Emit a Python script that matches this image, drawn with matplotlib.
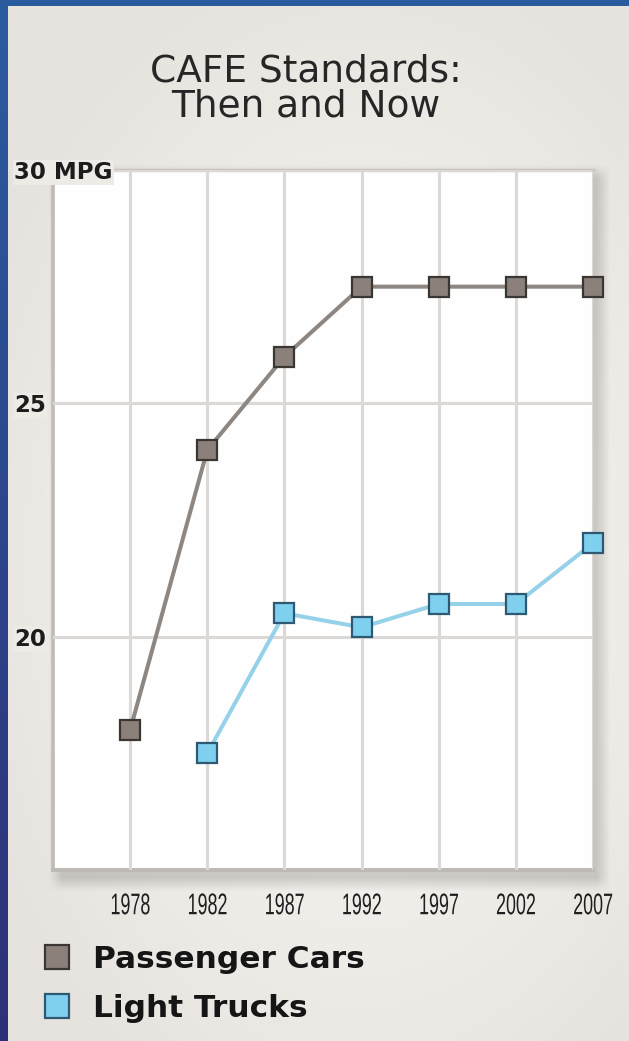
import matplotlib
matplotlib.use("Agg")
import matplotlib.pyplot as plt
import numpy as np
from matplotlib.lines import Line2D
from matplotlib.patheffects import AbstractPathEffect
from matplotlib.transforms import Affine2D

# ---------------- data ----------------
years = ["1978", "1982", "1987", "1992", "1997", "2002", "2007"]
cars = [18.0, 24.0, 26.0, 27.5, 27.5, 27.5, 27.5]
truck_years = ["1982", "1987", "1992", "1997", "2002", "2007"]
trucks = [17.5, 20.5, 20.2, 20.7, 20.7, 22.0]
y_ticks = [20, 25, 30]
y_labels = ["20", "25", "30 MPG"]
series_names = ["Passenger Cars", "Light Trucks"]
title = "CAFE Standards:\nThen and Now"

CAR_FILL, CAR_EDGE, CAR_LINE = "#8b817a", "#3a3634", "#8e8680"
TRK_FILL, TRK_EDGE, TRK_LINE = "#7fcfee", "#2d5a72", "#95d2ea"


class HStretch(AbstractPathEffect):
    """Draw text horizontally condensed around its own centre."""

    def __init__(self, sx):
        super().__init__()
        self.sx = sx

    def draw_path(self, renderer, gc, tpath, affine, rgbFace=None):
        ext = tpath.get_extents(affine)
        cx = 0.5 * (ext.x0 + ext.x1)
        aff = affine + Affine2D().translate(-cx, 0).scale(self.sx, 1).translate(cx, 0)
        renderer.draw_path(gc, tpath, aff, rgbFace)


W, H = 629, 1041
fig = plt.figure(figsize=(W / 100, H / 100), dpi=100)

# ---------------- background (blue frame + beige panel + plot shadow) ----------------
yy, xx = np.mgrid[0:H, 0:W].astype(float)
img = np.zeros((H, W, 3))
t = yy / H
blue = np.stack([43 + 3 * t, 92 - 44 * t, 160 - 40 * t], axis=-1)
r = np.sqrt(((xx - 360) / 420) ** 2 + ((yy - 560) / 620) ** 2)
r = np.clip(r, 0, 1) ** 1.6
light = np.array([247, 245, 242.0])
dark = np.array([230, 226, 221.0])
panel = light + (dark - light) * r[..., None]
mask = (xx >= 8) & (yy >= 6)
img[:] = blue
img[mask] = panel[mask]

# soft shadow around plot area
sh = ((xx >= 56) & (xx <= 603) & (yy >= 172) & (yy <= 884)).astype(float)
k = 7
c = np.cumsum(np.pad(sh, ((k, k), (0, 0))), axis=0)
sh = (c[2 * k:] - c[:-2 * k]) / (2 * k)
c = np.cumsum(np.pad(sh, ((0, 0), (k, k))), axis=1)
sh = (c[:, 2 * k:] - c[:, :-2 * k]) / (2 * k)
sh = sh[:H, :W]
img = img - 36 * sh[..., None] * mask[..., None]
img = np.clip(img, 0, 255) / 255.0

bg = fig.add_axes([0, 0, 1, 1], zorder=-10)
bg.imshow(img, aspect="auto", extent=(0, W, H, 0), interpolation="bilinear")
bg.set_axis_off()

# ---------------- main axes ----------------
L, R, T, B = 53, 593, 170, 870
ax = fig.add_axes([L / W, 1 - B / H, (R - L) / W, (B - T) / H])
ax.set_facecolor("#fefefe")

ax.plot(years, cars, color=CAR_LINE, lw=2.9, zorder=3, solid_capstyle="round")
ax.plot(truck_years, trucks, color=TRK_LINE, lw=2.9, zorder=3, solid_capstyle="round")
ax.plot(years, cars, ls="none", marker="s", ms=14, mfc=CAR_FILL, mec=CAR_EDGE,
        mew=1.6, zorder=4, clip_on=False)
ax.plot(truck_years, trucks, ls="none", marker="s", ms=14, mfc=TRK_FILL, mec=TRK_EDGE,
        mew=1.6, zorder=4, clip_on=False)

ax.set_xlim(-1, len(years) - 1)
ax.set_ylim(15, 30)
ax.set_axisbelow(False)
ax.yaxis.set_zorder(2.6)
ax.xaxis.set_zorder(2.6)

ax.set_yticks(y_ticks, y_labels)
ax.grid(True, color="#dbd8d5", lw=2.2)
ax.tick_params(axis="both", length=0)
ax.tick_params(axis="y", pad=28, labelsize=16.5, labelcolor="#1c1c1c")
for lbl in ax.get_yticklabels():
    lbl.set_fontweight("bold")
    lbl.set_horizontalalignment("left")
    lbl.set_bbox(dict(facecolor="#eeebe7", edgecolor="none", pad=1.0))

ax.tick_params(axis="x", pad=16, labelsize=21.5, labelcolor="#1f1f1f")
for lbl in ax.get_xticklabels():
    lbl.set_fontfamily("Liberation Sans")
    lbl.set_path_effects([HStretch(0.6)])

ax.spines["right"].set_visible(False)
ax.spines["top"].set_color("#c6c3c0")
ax.spines["top"].set_linewidth(2.4)
ax.spines["left"].set_color("#bfbbb7")
ax.spines["left"].set_linewidth(2.6)
ax.spines["bottom"].set_color("#bdbab6")
ax.spines["bottom"].set_linewidth(2.8)

# ---------------- title ----------------
fig.text(306 / W, 1 - 89 / H, title, ha="center", va="center", fontsize=27,
         color="#262626", linespacing=0.98)

# ---------------- legend ----------------
handles = [
    Line2D([], [], ls="none", marker="s", ms=17, mfc=CAR_FILL, mec=CAR_EDGE, mew=1.6),
    Line2D([], [], ls="none", marker="s", ms=17, mfc=TRK_FILL, mec=TRK_EDGE, mew=1.6),
]
leg = fig.legend(handles, series_names, loc="upper left",
                 bbox_to_anchor=(41 / W, 1 - 945 / H), bbox_transform=fig.transFigure,
                 frameon=False, borderpad=0, borderaxespad=0, handlelength=1.0,
                 handletextpad=0.65, labelspacing=0.64,
                 prop=dict(size=22.5, weight="bold"))
for txt in leg.get_texts():
    txt.set_color("#151515")

fig.savefig("out.png", dpi=100)
